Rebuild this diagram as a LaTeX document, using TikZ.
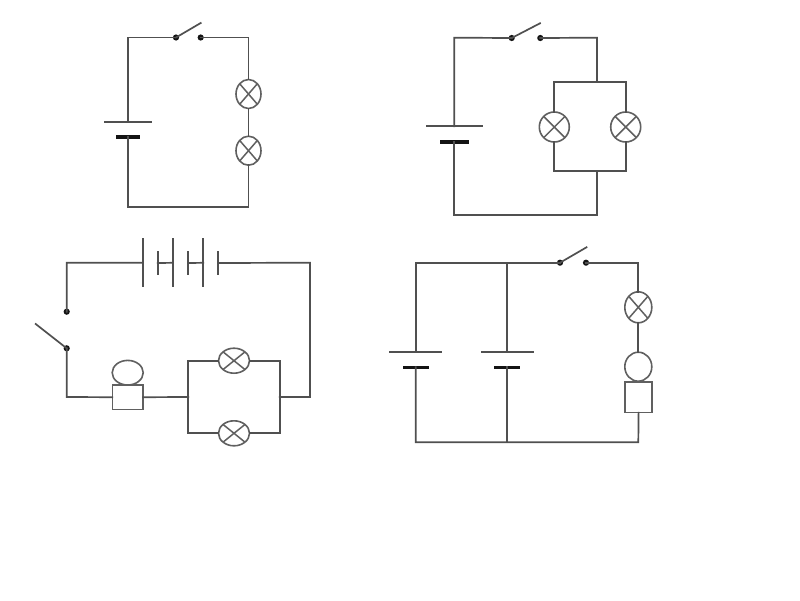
\documentclass[tikz,border=0pt]{standalone}
\usetikzlibrary{shapes.geometric}
\definecolor{wirecol}{HTML}{505050}
\definecolor{lampcol}{HTML}{606060}
\definecolor{inkcol}{HTML}{141414}
\tikzset{
  wire/.style={draw=wirecol,line width=1.7pt,line cap=rect},
  lampbase/.style={shape=ellipse,draw=lampcol,fill=white,line width=1.6pt,inner sep=0pt,outer sep=0pt,
    path picture={\draw[lampcol,line width=1.5pt]
      (path picture bounding box.north west)--(path picture bounding box.south east)
      (path picture bounding box.north east)--(path picture bounding box.south west);}},
  bulb/.style={shape=ellipse,draw=lampcol,fill=white,line width=1.6pt,inner sep=0pt,outer sep=0pt},
  boxpart/.style={shape=rectangle,draw=lampcol,fill=white,line width=1.6pt,inner sep=0pt,outer sep=0pt},
  contact/.style={shape=circle,fill=inkcol,inner sep=0pt,outer sep=0pt,minimum size=6.2pt},
  thinplate/.style={shape=rectangle,fill=wirecol,inner sep=0pt,outer sep=0pt},
  thickplate/.style={shape=rectangle,fill=inkcol,inner sep=0pt,outer sep=0pt}
}
\begin{document}
\begin{tikzpicture}[x=1pt,y=-1pt]
\useasboundingbox (0,0) rectangle (800,600);
\fill[white] (0,0) rectangle (800,600);

% Circuit 1
\coordinate (atl) at (128,37.5);
\coordinate (atr) at (248.5,37.5);
\coordinate (abl) at (128,207);
\coordinate (abr) at (248.5,207);
\coordinate (abl2) at (200.7,23);
\node[thinplate,minimum width=48pt,minimum height=1.7pt] (ap1) at (128,122.3) {};
\node[thickplate,minimum width=24pt,minimum height=3.6pt] (ap2) at (128,136.7) {};
\node[contact] (as1) at (176,37.5) {};
\node[contact] (as2) at (200.7,37.5) {};
\node[lampbase,minimum width=25pt,minimum height=29pt] (al1) at (248.5,94) {};
\node[lampbase,minimum width=25pt,minimum height=29pt] (al2) at (248.5,150.7) {};
\draw[wire] (ap1.center) -- (atl) -- (as1.center);
\draw[wire] (as1.center) -- (abl2);
\draw[wire] (as2.center) -- (atr) -- (al1.north);
\draw[wire] (al1.south) -- (al2.north);
\draw[wire] (al2.south) -- (abr) -- (abl) -- (ap2.center);

% Circuit 2
\coordinate (btl) at (454.3,37.7);
\coordinate (btr) at (597,37.7);
\coordinate (bbl) at (454.3,215);
\coordinate (bbr) at (597,215);
\coordinate (bblade) at (540,23.3);
\coordinate (bpt) at (597,81.7);
\coordinate (bpb) at (597,170.7);
\coordinate (bptl) at (554.3,81.7);
\coordinate (bptr) at (625.7,81.7);
\coordinate (bpbl) at (554.3,170.7);
\coordinate (bpbr) at (625.7,170.7);
\node[thinplate,minimum width=57.6pt,minimum height=1.7pt] (bp1) at (454.3,126.3) {};
\node[thickplate,minimum width=29pt,minimum height=3.6pt] (bp2) at (454.3,141.7) {};
\node[contact] (bs1) at (511.7,38) {};
\node[contact] (bs2) at (540.3,38) {};
\node[lampbase,minimum width=30pt,minimum height=30pt] (bl1) at (554.3,127) {};
\node[lampbase,minimum width=30pt,minimum height=30pt] (bl2) at (625.7,127) {};
\draw[wire] (bp1.center) -- (btl) -- (bs1.center);
\draw[wire] (bs1.center) -- (bblade);
\draw[wire] (bs2.center) -- (btr) -- (bpt);
\draw[wire] (bl1.north) -- (bptl) -- (bptr) -- (bl2.north);
\draw[wire] (bl1.south) -- (bpbl) -- (bpbr) -- (bl2.south);
\draw[wire] (bpb) -- (bbr) -- (bbl) -- (bp2.center);

% Circuit 3
\coordinate (ctl) at (66.7,262.7);
\coordinate (ctr) at (310,262.7);
\coordinate (cbl) at (66.7,397);
\coordinate (cbr) at (310,397);
\coordinate (cblade) at (35.7,324);
\coordinate (cpl) at (188.3,397);
\coordinate (cpr) at (279.7,397);
\coordinate (cptl) at (188.3,360.7);
\coordinate (cptr) at (279.7,360.7);
\coordinate (cpbl) at (188.3,433.3);
\coordinate (cpbr) at (279.7,433.3);
\node[thinplate,minimum width=1.7pt,minimum height=49pt] (cb1) at (142.7,262.8) {};
\node[thinplate,minimum width=2pt,minimum height=24.6pt] (cb2) at (157.7,263) {};
\node[thinplate,minimum width=1.7pt,minimum height=49pt] (cb3) at (173,262.8) {};
\node[thinplate,minimum width=2pt,minimum height=24.6pt] (cb4) at (188.3,263) {};
\node[thinplate,minimum width=1.7pt,minimum height=49pt] (cb5) at (203.3,262.8) {};
\node[thinplate,minimum width=2pt,minimum height=24.6pt] (cb6) at (218.3,263) {};
\node[contact] (cs1) at (66.7,311.7) {};
\node[contact] (cs2) at (66.7,348.3) {};
\node[boxpart,minimum width=30.7pt,minimum height=24.3pt] (cbox) at (127.7,397.2) {};
\node[bulb,minimum width=31pt,minimum height=24.6pt] (cbulb) at (127.7,372.7) {};
\node[lampbase,minimum width=31pt,minimum height=25pt] (cl1) at (234,360.7) {};
\node[lampbase,minimum width=31pt,minimum height=25pt] (cl2) at (234,433.3) {};
\draw[wire] (cs1.center) -- (ctl) -- (cb1.center);
\draw[wire] (cb2.center) -- (cb3.center);
\draw[wire] (cb4.center) -- (cb5.center);
\draw[wire] (cb6.center) -- (ctr) -- (cbr) -- (cpr);
\draw[wire] (cs2.center) -- (cblade);
\draw[wire] (cs2.center) -- (cbl) -- (cbox.west);
\draw[wire] (cbox.east) -- (cpl);
\draw[wire] (cl1.west) -- (cptl) -- (cpbl) -- (cl2.west);
\draw[wire] (cl1.east) -- (cptr) -- (cpbr) -- (cl2.east);

% Circuit 4
\coordinate (dtl) at (415.7,262.7);
\coordinate (dtm) at (507.3,262.7);
\coordinate (dtr) at (638.3,262.7);
\coordinate (dbl) at (415.7,442.3);
\coordinate (dbm) at (507.3,442.3);
\coordinate (dbr) at (638.3,442.3);
\coordinate (dblade) at (586.5,247.3);
\node[thinplate,minimum width=53pt,minimum height=1.7pt] (dp1) at (415.7,352.3) {};
\node[thickplate,minimum width=26pt,minimum height=3.6pt] (dp2) at (415.7,367.3) {};
\node[thinplate,minimum width=53pt,minimum height=1.7pt] (dp3) at (507.3,352.3) {};
\node[thickplate,minimum width=26pt,minimum height=3.6pt] (dp4) at (507.3,367.3) {};
\node[contact] (ds1) at (560,262.7) {};
\node[contact] (ds2) at (586,262.7) {};
\node[lampbase,minimum width=27pt,minimum height=31pt] (dl1) at (638.3,307.3) {};
\node[bulb,minimum width=27pt,minimum height=29pt] (dbulb) at (638.3,366.7) {};
\node[boxpart,minimum width=26.7pt,minimum height=30.7pt] (dbox) at (638.6,397.3) {};
\draw[wire] (dp1.center) -- (dtl) -- (ds1.center);
\draw[wire] (dtm) -- (dp3.center);
\draw[wire] (ds1.center) -- (dblade);
\draw[wire] (ds2.center) -- (dtr) -- (dl1.north);
\draw[wire] (dl1.south) -- (dbulb.north);
\draw[wire] (dbox.south) -- (dbr) -- (dbl) -- (dp2.center);
\draw[wire] (dbm) -- (dp4.center);
\end{tikzpicture}
\end{document}
